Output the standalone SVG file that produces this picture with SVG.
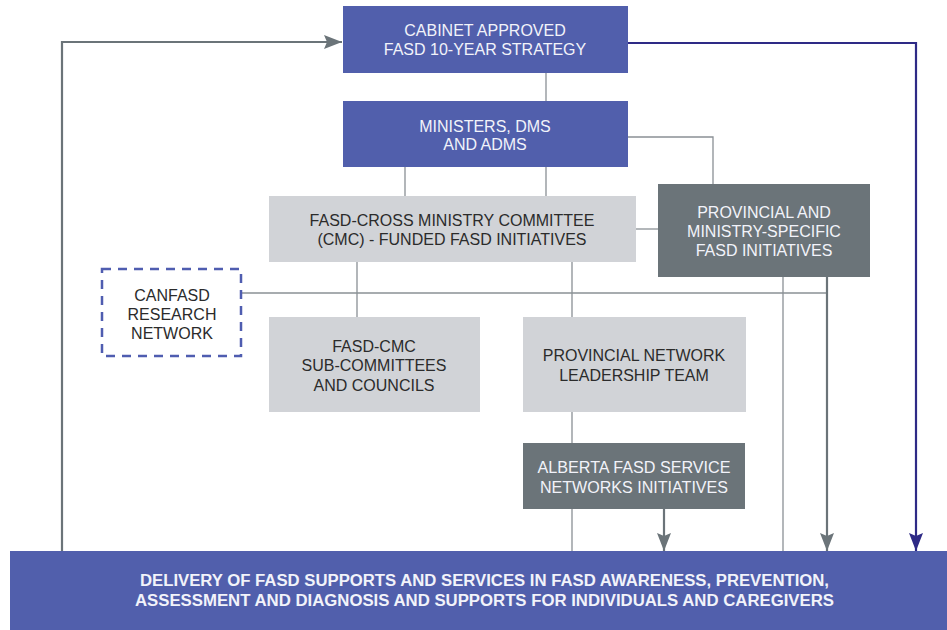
<svg xmlns="http://www.w3.org/2000/svg" width="947" height="630" viewBox="0 0 947 630">
  <defs>
    <style>
      .blue { fill: #515fac; }
      .light { fill: #d1d3d7; }
      .dark { fill: #6b7479; }
      .t { font-family: "Liberation Sans", Arial, sans-serif; font-size: 16px; text-anchor: middle; }
      .tw { fill: #f2f3fa; }
      .tk { fill: #2b2b2b; }
      .thin { stroke: #8a9095; stroke-width: 1.3; fill: none; }
      .gray { stroke: #6b7479; stroke-width: 2.2; fill: none; }
      .navy { stroke: #2e2a86; stroke-width: 2.2; fill: none; }
    </style>
    <marker id="ahGray" viewBox="0 0 18 14" refX="18" refY="7" markerWidth="18" markerHeight="14" markerUnits="userSpaceOnUse" orient="auto">
      <path d="M0,0 L18,7 L0,14 L3,7 Z" fill="#6b7479"/>
    </marker>
    <marker id="ahNavy" viewBox="0 0 18 14" refX="18" refY="7" markerWidth="18" markerHeight="14" markerUnits="userSpaceOnUse" orient="auto">
      <path d="M0,0 L18,7 L0,14 L3,7 Z" fill="#2e2a86"/>
    </marker>
  </defs>

  <rect width="947" height="630" fill="#ffffff"/>

  <!-- connectors -->
  <g id="connectors">
    <path class="thin" d="M546,73 V101"/>
    <path class="thin" d="M405,167 V196 M546,167 V196"/>
    <path class="thin" d="M628,137 H713 V184"/>
    <path class="thin" d="M636,229 H658"/>
    <path class="thin" d="M357,262 V317 M572,262 V317"/>
    <path class="thin" d="M242,293 H827"/>
    <path class="thin" d="M783,277 V551"/>
    <path class="thin" d="M572,412 V443 M572,509 V551"/>
    <path class="gray" d="M827,277 V551" marker-end="url(#ahGray)"/>
    <path class="gray" d="M664,509 V551" marker-end="url(#ahGray)"/>
    <path class="gray" d="M62,551 V42 H342" marker-end="url(#ahGray)"/>
    <path class="navy" d="M628,43 H916 V551" marker-end="url(#ahNavy)"/>
  </g>

  <g id="cabinet">
    <rect class="blue" x="343" y="6" width="285" height="67"/>
    <text class="t tw" x="485" y="36">CABINET APPROVED</text>
    <text class="t tw" x="485" y="55">FASD 10-YEAR STRATEGY</text>
  </g>

  <g id="ministers">
    <rect class="blue" x="343" y="101" width="285" height="66"/>
    <text class="t tw" x="485" y="132">MINISTERS, DMS</text>
    <text class="t tw" x="485" y="150">AND ADMS</text>
  </g>

  <g id="cmc">
    <rect class="light" x="269" y="196" width="367" height="66"/>
    <text class="t tk" x="452" y="226">FASD-CROSS MINISTRY COMMITTEE</text>
    <text class="t tk" x="452" y="245">(CMC) - FUNDED FASD INITIATIVES</text>
  </g>

  <g id="provincial-ministry">
    <rect class="dark" x="658" y="184" width="212" height="93"/>
    <text class="t tw" x="764" y="218">PROVINCIAL AND</text>
    <text class="t tw" x="764" y="237">MINISTRY-SPECIFIC</text>
    <text class="t tw" x="764" y="256">FASD INITIATIVES</text>
  </g>

  <g id="canfasd">
    <rect x="102" y="269" width="139" height="87" fill="#ffffff" stroke="#4f5db0" stroke-width="2.5" stroke-dasharray="9,7"/>
    <text class="t tk" x="172" y="301">CANFASD</text>
    <text class="t tk" x="172" y="320">RESEARCH</text>
    <text class="t tk" x="172" y="339">NETWORK</text>
  </g>

  <g id="cmc-subcommittees">
    <rect class="light" x="269" y="317" width="211" height="95"/>
    <text class="t tk" x="374" y="352">FASD-CMC</text>
    <text class="t tk" x="374" y="371">SUB-COMMITTEES</text>
    <text class="t tk" x="374" y="391">AND COUNCILS</text>
  </g>

  <g id="network-leadership">
    <rect class="light" x="523" y="317" width="223" height="95"/>
    <text class="t tk" x="634" y="361">PROVINCIAL NETWORK</text>
    <text class="t tk" x="634" y="381">LEADERSHIP TEAM</text>
  </g>

  <g id="alberta-networks">
    <rect class="dark" x="523" y="443" width="222" height="66"/>
    <text class="t tw" x="634" y="473" textLength="193" lengthAdjust="spacingAndGlyphs">ALBERTA FASD SERVICE</text>
    <text class="t tw" x="634" y="493" textLength="188" lengthAdjust="spacingAndGlyphs">NETWORKS INITIATIVES</text>
  </g>

  <g id="delivery">
    <rect class="blue" x="10" y="551" width="937" height="79"/>
    <text class="t tw" x="484.5" y="586" font-weight="bold" font-size="15" textLength="689" lengthAdjust="spacingAndGlyphs">DELIVERY OF FASD SUPPORTS AND SERVICES IN FASD AWARENESS, PREVENTION,</text>
    <text class="t tw" x="484.5" y="606" font-weight="bold" font-size="15" textLength="699" lengthAdjust="spacingAndGlyphs">ASSESSMENT AND DIAGNOSIS AND SUPPORTS FOR INDIVIDUALS AND CAREGIVERS</text>
  </g>
</svg>
